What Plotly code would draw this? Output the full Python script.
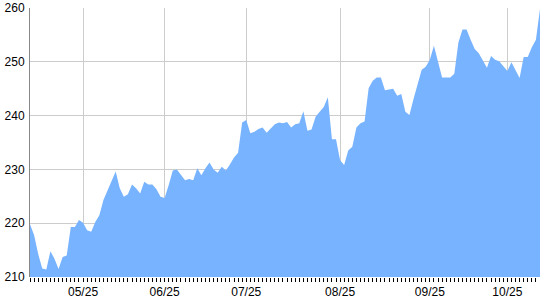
import plotly.graph_objects as go

# Series values (one per trading session, in order)
values = [
    219.8, 217.8, 214.3, 211.6, 211.4, 214.8, 213.4, 211.5, 213.7, 214.0,
    219.3, 219.3, 220.6, 220.1, 218.7, 218.4, 220.2, 221.5, 224.3, 226.1,
    227.7, 229.6, 226.5, 224.9, 225.4, 227.2, 226.5, 225.5, 227.7, 227.2,
    227.2, 226.3, 224.9, 224.7, 227.1, 229.8, 230.0, 228.9, 228.0, 228.2,
    228.0, 230.2, 228.9, 230.2, 231.3, 230.0, 229.4, 230.5, 229.8, 230.9,
    232.2, 233.1, 238.7, 239.2, 236.7, 237.0, 237.5, 237.8, 236.8, 237.6,
    238.4, 238.7, 238.6, 238.8, 237.8, 238.4, 238.6, 240.8, 237.2, 237.4,
    239.8, 240.7, 241.6, 243.4, 235.6, 235.6, 231.7, 230.8, 233.5, 234.2,
    237.8, 238.6, 238.9, 245.1, 246.5, 247.1, 247.1, 244.7, 244.8, 245.0,
    243.7, 244.0, 240.7, 240.1, 243.1, 246.0, 248.5, 249.1, 250.4, 253.0,
    250.1, 247.1, 247.1, 247.1, 247.8, 253.6, 256.0, 256.0, 254.1, 252.4,
    251.6, 250.1, 248.9, 251.1, 250.4, 250.1, 249.3, 248.3, 249.9, 248.5,
    247.0, 250.9, 250.9, 252.7, 254.1, 259.8,
]
sessions = list(range(len(values)))

# Month tick labels and the session index at which each month starts
tick_labels = ["05/25", "06/25", "07/25", "08/25", "09/25", "10/25"]
tick_sessions = [13, 33, 53, 76, 98, 117]

y_ticks = [210, 220, 230, 240, 250, 260]

fig = go.Figure()
fig.add_trace(go.Scatter(
    x=sessions, y=values, mode="lines",
    line=dict(width=0, color="#78b3ff"),
    fill="tozeroy", fillcolor="#78b3ff",
    hoverinfo="skip", showlegend=False,
))

font = dict(family="Liberation Sans, Arial, sans-serif", size=12, color="#000000")

fig.update_layout(
    width=540, height=300,
    margin=dict(l=30, r=0, t=8, b=23),
    paper_bgcolor="white", plot_bgcolor="white",
    font=font,
    xaxis=dict(
        range=[0, len(values) - 1],
        tickmode="array", tickvals=tick_sessions, ticktext=tick_labels,
        ticks="outside", ticklen=4, tickcolor="#000000", tickwidth=1,
        showgrid=True, gridcolor="#cccccc", gridwidth=1,
        showline=False, zeroline=False,
        minor=dict(ticks="outside", ticklen=4, tickcolor="#000000",
                   tickmode="linear", tick0=0, dtick=1, showgrid=False),
        tickfont=font,
    ),
    yaxis=dict(
        range=[210, 260],
        tickmode="array", tickvals=y_ticks,
        ticks="", showgrid=True, gridcolor="#cccccc", gridwidth=1,
        showline=True, linecolor="#888888", linewidth=1,
        zeroline=False, tickfont=font, ticklabelstandoff=2,
    ),
)

fig.write_html("out.html")
